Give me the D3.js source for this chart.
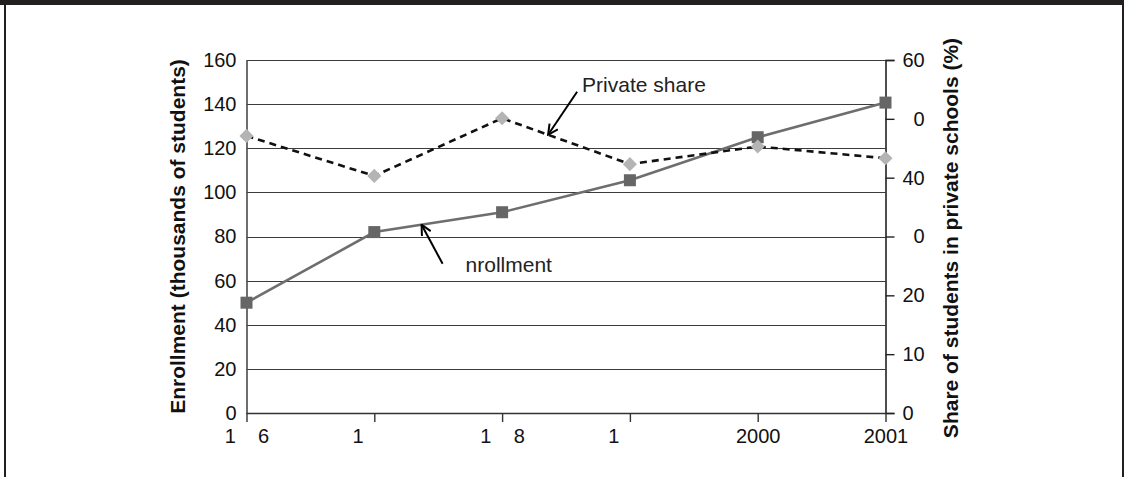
<!DOCTYPE html>
<html>
<head>
<meta charset="utf-8">
<script src="https://cdn.jsdelivr.net/npm/d3@7"></script>
<style>
  html, body { margin: 0; padding: 0; background: #fff; }
  svg { display: block; font-family: "Liberation Sans", Arial, sans-serif; }
  .tick text { white-space: pre; }
</style>
</head>
<body>
<svg id="chart" width="1124" height="477"></svg>
<script>
// School years along the horizontal axis
const categories = ["1996", "1997", "1998", "1999", "2000", "2001"];
// Labels printed under each year (some digits are blank in the printed figure)
const xTickLabels = ["1    6", "1      ", "1    8", "1      ", "2000", "2001"];

// Enrollment, thousands of students (left axis)
const enrollment = [50, 82, 91, 105.5, 125, 140.7];
// Share of students in private schools, percent (right axis)
const privateShare = [47.1, 40.3, 50.1, 42.3, 45.3, 43.3];

// Left axis ticks and labels
const leftTicks = [0, 20, 40, 60, 80, 100, 120, 140, 160];
// Right axis ticks and the labels printed beside them
const rightTicks = [0, 10, 20, 30, 40, 50, 60];
const rightTickLabels = ["0", "10", "20", "  0", "40", "  0", "60"];

const leftTitle = "Enrollment (thousands of students)";
const rightTitle = "Share of students in private schools (%)";
const shareNote = "Private share";
const enrollNote = "nrollment";

const svg = d3.select("#chart");
const W = 1124, H = 477;

// Page frame: dark band on top, thin rules on the sides
svg.append("rect").attr("x", 0).attr("y", 0).attr("width", W).attr("height", H).attr("fill", "#fff");
svg.append("rect").attr("x", 0).attr("y", 0).attr("width", W).attr("height", 5).attr("fill", "#231f20");
svg.append("rect").attr("x", 4).attr("y", 0).attr("width", 2).attr("height", H).attr("fill", "#231f20");
svg.append("rect").attr("x", 1122).attr("y", 0).attr("width", 2).attr("height", H).attr("fill", "#231f20");

const plot = { left: 246.5, right: 885.5, top: 60, bottom: 413 };

const x = d3.scalePoint().domain(categories).range([plot.left, plot.right]);
const yL = d3.scaleLinear().domain([0, 160]).range([plot.bottom, plot.top]);
const yR = d3.scaleLinear().domain([0, 60]).range([plot.bottom, plot.top]);

// Horizontal gridlines
svg.append("g").selectAll("line")
  .data(leftTicks.filter(d => d > 0))
  .join("line")
  .attr("x1", plot.left).attr("x2", plot.right)
  .attr("y1", d => Math.round(yL(d)) + 0.5).attr("y2", d => Math.round(yL(d)) + 0.5)
  .attr("stroke", "#3c3c3c").attr("stroke-width", 1.2);

// Left axis
const gL = svg.append("g").attr("transform", `translate(${plot.left},0)`)
  .call(d3.axisLeft(yL).tickValues(leftTicks).tickSize(0).tickPadding(10).tickFormat(d3.format("d")));
gL.select(".domain").attr("stroke", "#4a4a4a").attr("stroke-width", 1.6);
gL.selectAll("text").attr("font-size", 20).attr("fill", "#111").attr("font-family", null);

// Right axis
const gR = svg.append("g").attr("transform", `translate(${plot.right},0)`)
  .call(d3.axisRight(yR).tickValues(rightTicks).tickSize(9).tickPadding(8)
    .tickFormat((d, i) => rightTickLabels[i]));
gR.select(".domain").attr("stroke", "#222").attr("stroke-width", 1.6);
gR.selectAll(".tick line").attr("stroke", "#222").attr("stroke-width", 1.4);
gR.selectAll("text").attr("font-size", 20).attr("fill", "#111").attr("font-family", null)
  .attr("xml:space", "preserve");

// Bottom axis
const gB = svg.append("g").attr("transform", `translate(0,${plot.bottom})`)
  .call(d3.axisBottom(x).tickSize(9).tickPadding(7).tickFormat((d, i) => xTickLabels[i]));
gB.select(".domain").attr("stroke", "#333").attr("stroke-width", 1.6)
  .attr("d", `M${plot.left},0.5H${plot.right}`);
gB.selectAll(".tick line").attr("stroke", "#333").attr("stroke-width", 1.4);
gB.selectAll("text").attr("font-size", 20).attr("fill", "#111").attr("font-family", null)
  .attr("xml:space", "preserve");

// Axis titles
svg.append("text")
  .attr("transform", "translate(185,236.5) rotate(-90)")
  .attr("text-anchor", "middle").attr("font-size", 21).attr("font-weight", "bold").attr("fill", "#111")
  .text(leftTitle);
svg.append("text")
  .attr("transform", "translate(958,238) rotate(-90)")
  .attr("text-anchor", "middle").attr("font-size", 21).attr("font-weight", "bold").attr("fill", "#111")
  .text(rightTitle);

// Enrollment series: solid grey line with square markers
const lineL = d3.line().x((d, i) => x(categories[i])).y(d => yL(d));
svg.append("path").datum(enrollment).attr("d", lineL)
  .attr("fill", "none").attr("stroke", "#6e6e6e").attr("stroke-width", 2.6);
svg.append("g").selectAll("rect").data(enrollment).join("rect")
  .attr("x", (d, i) => x(categories[i]) - 6).attr("y", d => yL(d) - 6)
  .attr("width", 12).attr("height", 12).attr("fill", "#666");

// Private share series: dashed black line with diamond markers
const lineR = d3.line().x((d, i) => x(categories[i])).y(d => yR(d));
svg.append("path").datum(privateShare).attr("d", lineR)
  .attr("fill", "none").attr("stroke", "#111").attr("stroke-width", 2.6).attr("stroke-dasharray", "7,5");
svg.append("g").selectAll("path").data(privateShare).join("path")
  .attr("d", d3.symbol().type(d3.symbolSquare).size(100))
  .attr("transform", (d, i) => `translate(${x(categories[i])},${yR(d)}) rotate(45)`)
  .attr("fill", "#b4b4b4");

// Callout arrows pointing at a spot along each series
svg.append("defs").append("marker")
  .attr("id", "arrowhead").attr("viewBox", "0 0 12 12").attr("refX", 11).attr("refY", 6)
  .attr("markerWidth", 12).attr("markerHeight", 12).attr("markerUnits", "userSpaceOnUse")
  .attr("orient", "auto")
  .append("path").attr("d", "M1,1 L11,6 L1,11").attr("fill", "none").attr("stroke", "#000").attr("stroke-width", 2);

function pointAlong(values, scale, pos) {
  const i = Math.floor(pos), t = pos - i;
  const px = x(categories[i]) + t * (x(categories[i + 1]) - x(categories[i]));
  const py = scale(values[i] + t * (values[i + 1] - values[i]));
  return [px, py];
}

const shareTip = pointAlong(privateShare, yR, 2.36);
svg.append("line")
  .attr("x1", shareTip[0] + 29).attr("y1", shareTip[1] - 43)
  .attr("x2", shareTip[0]).attr("y2", shareTip[1])
  .attr("stroke", "#000").attr("stroke-width", 2).attr("marker-end", "url(#arrowhead)");
svg.append("text").attr("x", shareTip[0] + 34).attr("y", shareTip[1] - 43)
  .attr("font-size", 21).attr("fill", "#222").text(shareNote);

const enrollTip = pointAlong(enrollment, yL, 1.37);
svg.append("line")
  .attr("x1", enrollTip[0] + 21).attr("y1", enrollTip[1] + 39)
  .attr("x2", enrollTip[0]).attr("y2", enrollTip[1])
  .attr("stroke", "#000").attr("stroke-width", 2).attr("marker-end", "url(#arrowhead)");
svg.append("text").attr("x", enrollTip[0] + 44).attr("y", enrollTip[1] + 47)
  .attr("font-size", 21).attr("fill", "#222").text(enrollNote);
</script>
</body>
</html>
